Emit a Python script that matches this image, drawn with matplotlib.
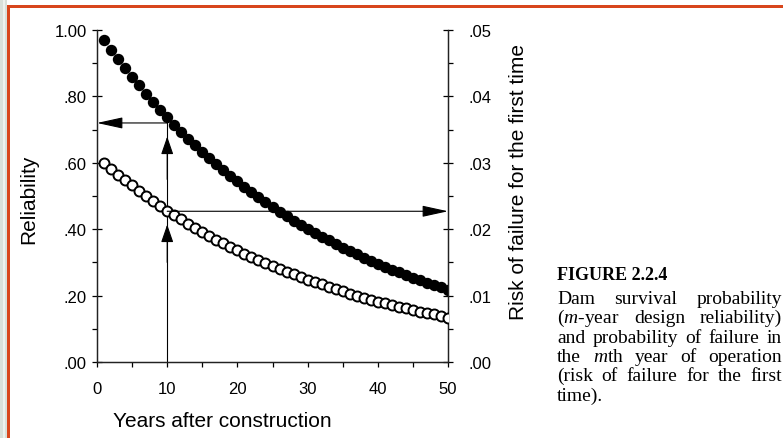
import matplotlib
matplotlib.use("Agg")
import matplotlib.pyplot as plt
from matplotlib.patches import Rectangle
from matplotlib.ticker import FixedLocator, MultipleLocator

plt.rcParams['font.family'] = ['Liberation Sans', 'DejaVu Sans']
plt.rcParams['mathtext.fontset'] = 'custom'
plt.rcParams['mathtext.rm'] = 'Liberation Serif'
plt.rcParams['mathtext.it'] = 'Liberation Serif:italic'

# data
years = list(range(1, 51))
reliability = [0.970, 0.941, 0.913, 0.885, 0.859, 0.833, 0.808, 0.784, 0.760, 0.737,
               0.715, 0.694, 0.673, 0.653, 0.633, 0.614, 0.596, 0.578, 0.561, 0.544,
               0.527, 0.512, 0.496, 0.481, 0.467, 0.453, 0.439, 0.426, 0.413, 0.401,
               0.389, 0.377, 0.366, 0.355, 0.344, 0.334, 0.324, 0.314, 0.305, 0.296,
               0.287, 0.278, 0.270, 0.262, 0.254, 0.246, 0.239, 0.232, 0.225, 0.218]
risk_first = [0.0300, 0.0291, 0.0282, 0.0274, 0.0266, 0.0258, 0.0250, 0.0242, 0.0235, 0.0228,
              0.0221, 0.0215, 0.0208, 0.0202, 0.0196, 0.0190, 0.0184, 0.0179, 0.0173, 0.0168,
              0.0163, 0.0158, 0.0153, 0.0149, 0.0144, 0.0140, 0.0136, 0.0132, 0.0128, 0.0124,
              0.0120, 0.0117, 0.0113, 0.0110, 0.0107, 0.0103, 0.0100, 0.0097, 0.0094, 0.0091,
              0.0089, 0.0086, 0.0083, 0.0081, 0.0079, 0.0076, 0.0074, 0.0072, 0.0070, 0.0067]

x_ticks = [0, 10, 20, 30, 40, 50]
left_ticks = [0.0, 0.2, 0.4, 0.6, 0.8, 1.0]
left_labels = ['.00', '.20', '.40', '.60', '.80', '1.00']
right_ticks = [0.0, 0.01, 0.02, 0.03, 0.04, 0.05]
right_labels = ['.00', '.01', '.02', '.03', '.04', '.05']

design_life = 10
rel_at_life = 0.72
risk_at_life = 0.0227

caption_title = 'FIGURE 2.2.4'
caption_lines = ['Dam survival probability',
                 '($m$-year design reliability)',
                 'and probability of failure in',
                 'the $m$th year of operation',
                 '(risk of failure for the first',
                 'time).']

W, H = 783, 439
fig = plt.figure(figsize=(W / 100, H / 100), dpi=100)

# window frame of the screenshot
fig.patches.append(Rectangle((0, 0), 7 / W, 1, transform=fig.transFigure,
                             facecolor='#d9e0da', edgecolor='none'))
fig.patches.append(Rectangle((3 / W, 0), 1.5 / W, 1, transform=fig.transFigure,
                             facecolor='#eef2ee', edgecolor='none'))
fig.patches.append(Rectangle((7 / W, 0), 3 / W, 1 - 6 / H, transform=fig.transFigure,
                             facecolor='#d8461c', edgecolor='none'))
fig.patches.append(Rectangle((7 / W, 1 - 9 / H), 1, 3 / H, transform=fig.transFigure,
                             facecolor='#d8461c', edgecolor='none'))

ax = fig.add_axes([97 / W, 1 - 363 / H, (448 - 97) / W, (363 - 31) / H])
ax2 = ax.twinx()

ax.plot(years, reliability, 'o', color='k', ms=7.2, zorder=3)
ax2.plot(years, risk_first, 'o', mfc='white', mec='k', mew=1.4, ms=7.2, zorder=3)

ax.set_xlim(0, 50)
ax.set_ylim(0, 1.0)
ax2.set_ylim(0, 0.05)

for a in (ax, ax2):
    a.spines['top'].set_visible(False)
    for s in a.spines.values():
        s.set_linewidth(0.9)
        s.set_color('#222222')
    a.patch.set_visible(False)

ax.xaxis.set_major_locator(FixedLocator(x_ticks))
ax.xaxis.set_minor_locator(MultipleLocator(5))
ax.yaxis.set_major_locator(FixedLocator(left_ticks))
ax.set_yticklabels(left_labels)
ax.yaxis.set_minor_locator(MultipleLocator(0.1))
ax2.yaxis.set_major_locator(FixedLocator(right_ticks))
ax2.set_yticklabels(right_labels)
ax2.yaxis.set_minor_locator(MultipleLocator(0.005))

ax.tick_params(axis='x', which='both', direction='out', length=3.6, width=0.9,
               labelsize=12, pad=10)
ax.tick_params(axis='y', which='major', direction='inout', length=7, width=0.9,
               labelsize=12, pad=4)
ax.tick_params(axis='y', which='minor', direction='out', length=3.5, width=0.9)
ax2.tick_params(axis='y', which='major', direction='inout', length=7, width=0.9,
                labelsize=12, pad=11)
ax2.tick_params(axis='y', which='minor', direction='out', length=3.5, width=0.9)

# design life lines and arrows
ax.plot([design_life, design_life], [0, rel_at_life], color='k', lw=0.8, zorder=2)
big_head = dict(arrowstyle='-|>,head_length=1.6,head_width=0.35', color='k', lw=0.8,
                shrinkA=0, shrinkB=0, mutation_scale=10)
small_head = dict(arrowstyle='-|>,head_length=1.1,head_width=0.38', color='k', lw=0.8,
                  shrinkA=0, shrinkB=0, mutation_scale=10)
ax.annotate('', xy=(0, rel_at_life), xytext=(design_life, rel_at_life),
            arrowprops=big_head, annotation_clip=False)
ax2.annotate('', xy=(50, risk_at_life), xytext=(design_life, risk_at_life),
             arrowprops=big_head, annotation_clip=False)
ax.annotate('', xy=(design_life, 0.679), xytext=(design_life, 0.55), arrowprops=small_head)
ax.annotate('', xy=(design_life, 0.414), xytext=(design_life, 0.3), arrowprops=small_head)

fig.text(222 / W, 1 - 422 / H, 'Years after construction', fontsize=15,
         ha='center', va='center')
fig.text(29 / W, 1 - 199 / H, 'Reliability', fontsize=15, rotation=90,
         ha='center', va='center')
fig.text(519 / W, 1 - 182 / H, 'Risk of failure for the first time', fontsize=15,
         rotation=90, ha='center', va='center')

# caption, justified between two edges
cap_left, cap_right = 557, 782
fig.text(cap_left / W, 1 - 280 / H, caption_title, family='Liberation Serif',
         fontweight='bold', fontsize=13, va='baseline')
renderer = fig.canvas.get_renderer()
for i, line in enumerate(caption_lines):
    y = 1 - (304 + 19.3 * i) / H
    words = line.split(' ')
    if i == len(caption_lines) - 1:
        fig.text(cap_left / W, y, line, family='Liberation Serif', fontsize=14,
                 va='baseline')
        continue
    texts = [fig.text(0, y, w, family='Liberation Serif', fontsize=14, va='baseline')
             for w in words]
    widths = [t.get_window_extent(renderer).width for t in texts]
    gap = (cap_right - cap_left - sum(widths)) / (len(words) - 1)
    x = cap_left
    for t, w in zip(texts, widths):
        t.set_x(x / W)
        x += w + gap

fig.savefig('out.png', dpi=100)
